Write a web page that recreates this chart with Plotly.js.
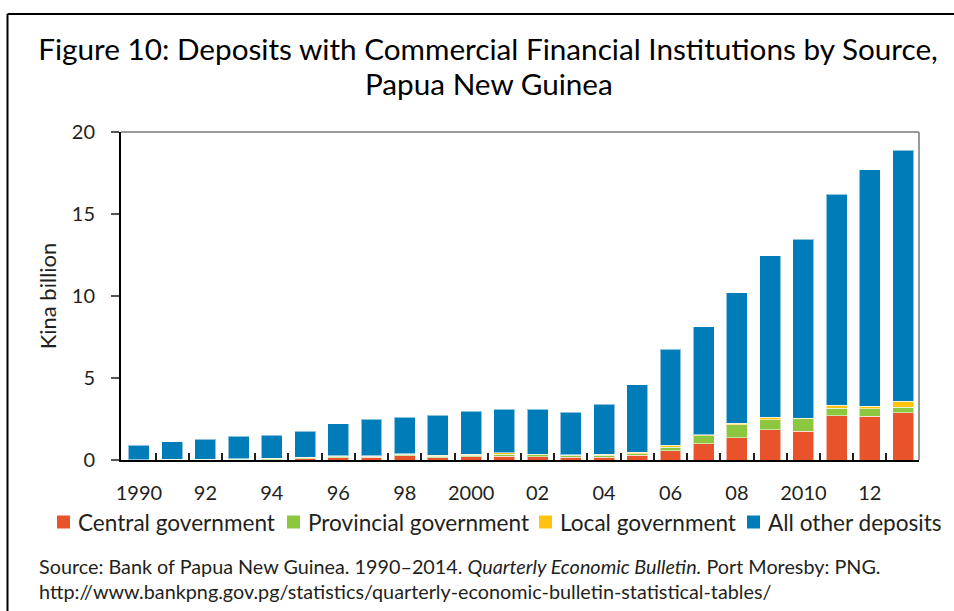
<!DOCTYPE html>
<html>
<head>
<meta charset="utf-8">
<script src="https://cdn.plot.ly/plotly-3.0.1.min.js"></script>
<style>
  html, body { margin: 0; padding: 0; background: #fff; }
  #chart { width: 954px; height: 611px; }
</style>
</head>
<body>
<div id="chart"></div>
<script>
// ---- Data (Kina billion) ----
const years = [1990,1991,1992,1993,1994,1995,1996,1997,1998,1999,2000,2001,2002,2003,2004,2005,2006,2007,2008,2009,2010,2011,2012,2013];
const centralGov    = [0.02,0.02,0.02,0.02,0.03,0.08,0.14,0.16,0.26,0.14,0.20,0.24,0.20,0.18,0.18,0.30,0.57,0.98,1.36,1.85,1.75,2.70,2.68,2.89];
const provincialGov = [0.01,0.02,0.03,0.04,0.07,0.08,0.08,0.06,0.08,0.10,0.08,0.12,0.12,0.10,0.10,0.08,0.22,0.49,0.79,0.61,0.77,0.45,0.45,0.33];
const localGov      = [0.00,0.00,0.00,0.01,0.01,0.02,0.03,0.03,0.03,0.04,0.08,0.08,0.04,0.03,0.06,0.10,0.10,0.08,0.10,0.14,0.04,0.20,0.16,0.37];
const otherDeposits = [0.88,1.08,1.23,1.39,1.41,1.57,1.97,2.23,2.23,2.44,2.61,2.65,2.73,2.59,3.07,4.11,5.86,6.58,7.95,9.86,10.89,12.85,14.41,15.29];

const xTickVals = [1990,1992,1994,1996,1998,2000,2002,2004,2006,2008,2010,2012];
const xTickText = ["1990","92","94","96","98","2000","02","04","06","08","2010","12"];
const yTickVals = [0,5,10,15,20];
const seriesNames = ["Central government","Provincial government","Local government","All other deposits"];
const seriesColors = ["#E8532B","#8DC63F","#FFC20E","#007DB8"];
const titleLine1 = "Figure 10: Deposits with Commercial Financial Institutions by Source,";
const titleLine2 = "Papua New Guinea";
const sourceLine1 = "Source: Bank of Papua New Guinea. 1990\u20132014. <i>Quarterly Economic Bulletin.</i> Port Moresby: PNG.";
const sourceLine2 = "http://www.bankpng.gov.pg/statistics/quarterly-economic-bulletin-statistical-tables/";

const FONT = "Lato, 'Noto Sans', sans-serif";
const TXT = "#231f20";

// plot-area geometry (px) used to convert layout positions into paper units
const PL = 121, PR = 919, PT = 132, PB = 460;
const px2x = px => (px - PL) / (PR - PL);
const px2y = py => (PB - py) / (PB - PT);

const seriesData = [centralGov, provincialGov, localGov, otherDeposits];
const traces = seriesData.map((vals, i) => ({
  type: "bar",
  x: years,
  y: vals,
  name: seriesNames[i],
  showlegend: false,
  marker: { color: seriesColors[i], line: { color: "rgba(255,255,255,0.55)", width: 1 } },
  hoverinfo: "x+y+name"
}));

// between-bar tick marks carried by an overlaid axis
const midTicks = years.slice(0, -1).map(y => y + 0.5);
traces.push({
  type: "scatter", x: midTicks, y: midTicks.map(() => null), xaxis: "x2", yaxis: "y",
  showlegend: false, hoverinfo: "skip", mode: "markers"
});

// legend (swatch + label) laid out in one row like the reference
const legendSwatchLeft = [57, 287, 539, 747];
const legendShapes = [];
const legendAnnots = [];
seriesNames.forEach((name, i) => {
  const x0 = legendSwatchLeft[i];
  legendShapes.push({
    type: "rect", xref: "paper", yref: "paper",
    x0: px2x(x0), x1: px2x(x0 + 13), y0: px2y(515.5), y1: px2y(528.5),
    fillcolor: seriesColors[i], line: { width: 0 }
  });
  legendAnnots.push({
    text: name, xref: "paper", yref: "paper",
    x: px2x(x0 + 19), y: px2y(522), xanchor: "left", yanchor: "middle",
    showarrow: false, font: { family: FONT, size: 22.6, color: TXT }
  });
});

const layout = {
  width: 954,
  height: 611,
  margin: { l: PL, r: 954 - PR, t: PT, b: 611 - PB },
  paper_bgcolor: "#ffffff",
  plot_bgcolor: "#ffffff",
  barmode: "stack",
  bargap: 0.37,
  font: { family: FONT, color: TXT, size: 19 },
  title: {
    text: titleLine1,
    font: { family: FONT, size: 29.7, color: "#000" },
    xref: "paper", x: px2x(488), xanchor: "center",
    yref: "container", y: 0.918, yanchor: "middle"
  },
  xaxis: {
    range: [1989.46, 2013.48],
    tickvals: xTickVals,
    ticktext: xTickText,
    ticks: "",
    showgrid: false,
    zeroline: false,
    showline: true,
    linecolor: "#000",
    linewidth: 2,
    ticklabelstandoff: 14,
    tickfont: { family: FONT, size: 20, color: TXT }
  },
  xaxis2: {
    overlaying: "x",
    matches: "x",
    range: [1989.46, 2013.48],
    tickvals: midTicks,
    ticks: "inside",
    ticklen: 7,
    tickwidth: 2,
    tickcolor: "#231f20",
    showticklabels: false,
    showgrid: false,
    zeroline: false,
    showline: false,
    side: "bottom"
  },
  yaxis: {
    range: [0, 20],
    tickvals: yTickVals,
    ticks: "outside",
    ticklen: 8,
    tickwidth: 2,
    tickcolor: "#555",
    showgrid: false,
    zeroline: false,
    showline: true,
    linecolor: "#000",
    linewidth: 2,
    ticklabelstandoff: 12,
    tickfont: { family: FONT, size: 20, color: TXT },
    title: { text: "Kina billion", font: { family: FONT, size: 22, color: TXT }, standoff: 9 }
  },
  showlegend: false,
  shapes: [
    { type: "line", xref: "paper", yref: "paper", x0: 0, x1: 1, y0: 1, y1: 1, line: { color: "#999", width: 2 } },
    { type: "line", xref: "paper", yref: "paper", x0: 1, x1: 1, y0: 0, y1: 1, line: { color: "#999", width: 2 } },
    { type: "line", xref: "paper", yref: "paper", x0: px2x(7.5), x1: px2x(960), y0: px2y(14), y1: px2y(14), line: { color: "#000", width: 2 } },
    { type: "line", xref: "paper", yref: "paper", x0: px2x(7.5), x1: px2x(7.5), y0: px2y(620), y1: px2y(14), line: { color: "#000", width: 2 } }
  ].concat(legendShapes),
  annotations: [
    {
      text: titleLine2,
      xref: "paper", yref: "paper", x: px2x(489), y: px2y(83), xanchor: "center", yanchor: "middle",
      showarrow: false, font: { family: FONT, size: 29.7, color: "#000" }
    },
    {
      text: sourceLine1,
      xref: "paper", yref: "paper", x: px2x(37), y: px2y(566), xanchor: "left", yanchor: "middle",
      showarrow: false, font: { family: FONT, size: 19.8, color: TXT }
    },
    {
      text: sourceLine2,
      xref: "paper", yref: "paper", x: px2x(37), y: px2y(591), xanchor: "left", yanchor: "middle",
      showarrow: false, font: { family: FONT, size: 19.8, color: TXT }
    }
  ].concat(legendAnnots)
};

Plotly.newPlot("chart", traces, layout, { displayModeBar: false, staticPlot: true });
</script>
</body>
</html>
